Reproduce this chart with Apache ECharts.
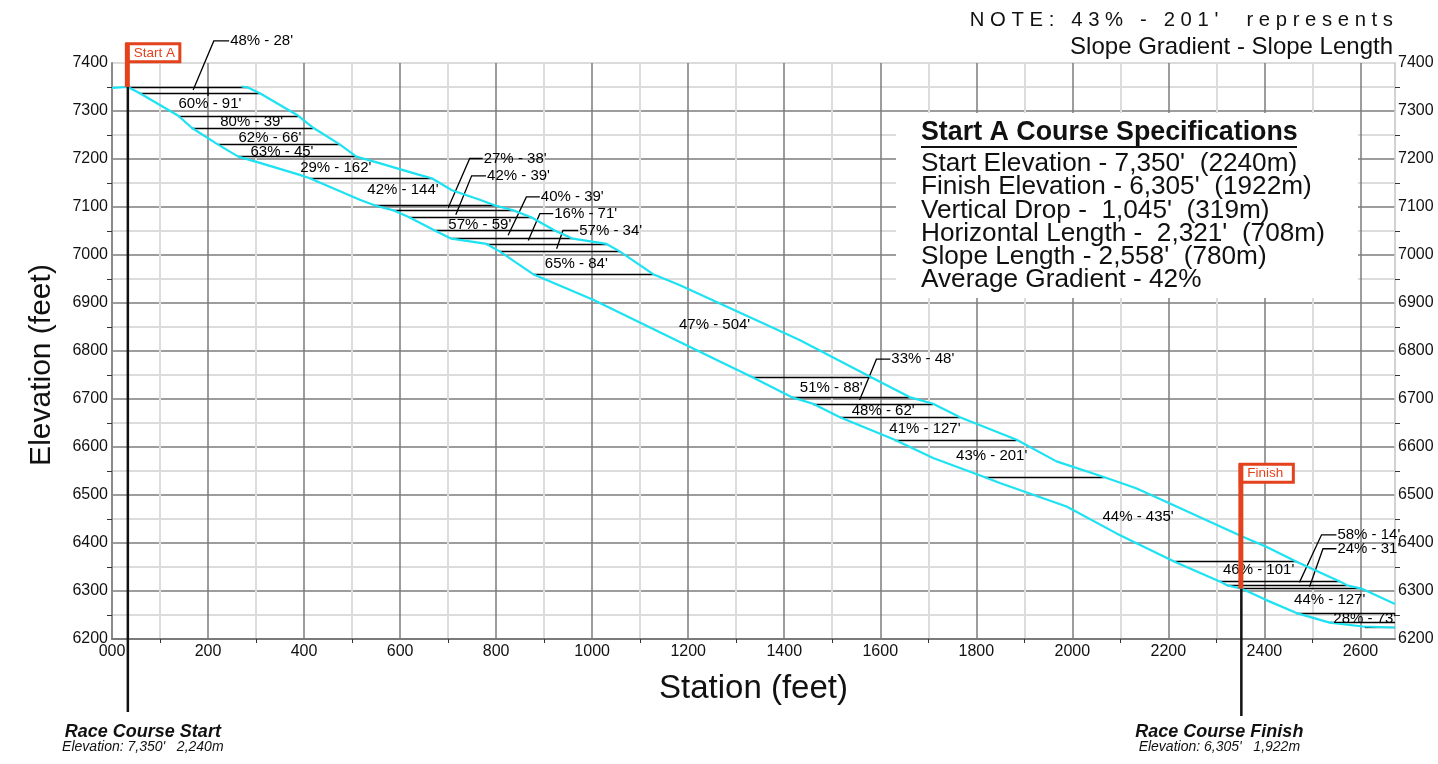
<!DOCTYPE html>
<html>
<head>
<meta charset="utf-8">
<title>Start A Course Profile</title>
<script src="https://cdn.jsdelivr.net/npm/echarts@6/dist/echarts.min.js"></script>
<style>
  html, body { margin: 0; padding: 0; background: #fff; }
  #main { width: 1438px; height: 764px; }
</style>
</head>
<body>
<div id="main"></div>
<script>
// course profile, lower edge: [station ft, elevation ft]
var lowerEdge = [
  [0, 7348], [33, 7350], [58, 7337], [138, 7290], [166, 7265], [221, 7230], [263, 7205],
  [308, 7192], [391, 7167], [412, 7160], [516, 7115], [548, 7103], [586, 7093], [620, 7078],
  [672, 7051], [707, 7034], [780, 7023], [808, 7007], [877, 6960], [1002, 6907], [1266, 6778],
  [1335, 6745], [1415, 6704], [1460, 6690], [1516, 6662], [1630, 6615], [1710, 6577],
  [1818, 6537], [1849, 6525], [1988, 6476], [2092, 6420], [2213, 6361], [2307, 6320],
  [2322, 6312], [2352, 6305], [2404, 6281], [2467, 6254], [2536, 6234], [2605, 6226], [2672, 6224]
];
// upper edge of the band
var upperEdge = [
  [270, 7351], [283, 7349], [308, 7337], [388, 7290], [419, 7265], [475, 7230], [509, 7205],
  [555, 7192], [640, 7167], [666, 7160], [708, 7135], [766, 7115], [798, 7103], [836, 7093],
  [874, 7078], [922, 7051], [960, 7034], [1030, 7023], [1058, 7007], [1127, 6960], [1183, 6937],
  [1432, 6823], [1582, 6745], [1661, 6704], [1710, 6690], [1766, 6662], [1884, 6615],
  [1967, 6570], [2067, 6537], [2133, 6514], [2210, 6479], [2355, 6413], [2404, 6392],
  [2467, 6361], [2557, 6320], [2572, 6312], [2602, 6305], [2672, 6273]
];
// horizontal step lines: [elevation, from station, to station]
var steps = [
  [7349, 33, 283], [7337, 58, 308], [7290, 138, 388], [7265, 166, 419], [7230, 221, 475],
  [7205, 263, 509], [7160, 412, 666], [7103, 548, 798], [7093, 586, 836], [7078, 620, 874],
  [7051, 672, 922], [7034, 707, 960], [7023, 780, 1030], [7007, 808, 1058], [6960, 877, 1127],
  [6745, 1335, 1582], [6704, 1415, 1661], [6690, 1460, 1710], [6662, 1516, 1766],
  [6615, 1630, 1884], [6537, 1818, 2067], [6361, 2213, 2467], [6320, 2307, 2557],
  [6312, 2322, 2572], [6305, 2352, 2602], [6254, 2467, 2672], [6234, 2536, 2672], [6224, 2609, 2672]
];
// gradient - length labels sitting in the band: [station, elevation, text]
var stepLabels = [
  [204, 7315, "60% - 91'"], [291, 7277, "80% - 39'"], [329, 7244, "62% - 66'"],
  [354, 7215, "63% - 45'"], [466, 7182, "29% - 162'"], [606, 7136, "42% - 144'"],
  [766, 7063, "57% - 59'"], [967, 6982, "65% - 84'"], [1255, 6855, "47% - 504'"],
  [1498, 6723, "51% - 88'"], [1606, 6676, "48% - 62'"], [1693, 6637, "41% - 127'"],
  [1832, 6582, "43% - 201'"], [2137, 6454, "44% - 435'"], [2388, 6345, "46% - 101'"],
  [2536, 6282, "44% - 127'"], [2609, 6243, "28% - 73'"]
];
// labels with leader lines: [text, leader points]
var leaderLabels = [
  ["48% - 28'", [[169, 7344], [212, 7446], [244, 7446]]],
  ["", [[200, 7348], [200, 7331]]],
  ["27% - 38'", [[700, 7098], [745, 7201], [772, 7201]]],
  ["42% - 39'", [[716, 7084], [749, 7165], [779, 7165]]],
  ["40% - 39'", [[825, 7041], [863, 7121], [891, 7121]]],
  ["16% - 71'", [[867, 7030], [891, 7086], [919, 7086]]],
  ["57% - 34'", [[926, 7013], [939, 7051], [971, 7051]]],
  ["33% - 48'", [[1557, 6698], [1592, 6783], [1621, 6783]]],
  ["58% - 14'", [[2473, 6318], [2519, 6417], [2550, 6417]]],
  ["24% - 31'", [[2494, 6309], [2522, 6388], [2550, 6388]]]
];
var startPoint = { station: 33, elevation: 7350, flag: 'Start A', flagTop: 7442,
  name: 'Race Course Start', info: "Elevation: 7,350'   2,240m" };
var finishPoint = { station: 2352, elevation: 6305, flag: 'Finish', flagTop: 6566,
  name: 'Race Course Finish', info: "Elevation: 6,305'   1,922m" };
var specTitle = 'Start A Course Specifications';
var specLines = [
  "Start Elevation - 7,350'  (2240m)",
  "Finish Elevation - 6,305'  (1922m)",
  "Vertical Drop -  1,045'  (319m)",
  "Horizontal Length -  2,321'  (708m)",
  "Slope Length - 2,558'  (780m)",
  'Average Gradient - 42%'
];
var noteLines = ["NOTE: 43% - 201'  represents", 'Slope Gradient - Slope Length'];

var font = '"Liberation Sans", Arial, sans-serif';
var cyan = '#1de2f2';
var red = '#e4421c';

var chart = echarts.init(document.getElementById('main'));

var option = {
  animation: false,
  textStyle: { fontFamily: font },
  grid: {
    left: 112, right: 43, top: 63, bottom: 125,
    show: true, borderColor: '#cfcfcf', borderWidth: 1.5,
    outerBoundsMode: 'none'
  },
  xAxis: {
    type: 'value',
    min: 0, max: 2672, interval: 200,
    name: 'Station (feet)',
    nameLocation: 'middle',
    nameGap: 33,
    nameTextStyle: { fontSize: 33, color: '#111' },
    axisLine: { lineStyle: { color: '#7a7a7a', width: 2 } },
    axisTick: { show: false },
    minorTick: { show: true, splitNumber: 2, length: 4, lineStyle: { color: '#333', width: 1 } },
    axisLabel: {
      fontSize: 16, color: '#111', margin: 5,
      formatter: function (v) {
        if (v % 200 !== 0) return '';
        return v === 0 ? '000' : String(v);
      }
    },
    splitLine: { showMinLine: false, showMaxLine: false, lineStyle: { color: '#7d7d7d', width: 1.5 } },
    minorSplitLine: { show: true, lineStyle: { color: '#dcdcdc', width: 2 } }
  },
  yAxis: [{
    type: 'value',
    min: 6200, max: 7400, interval: 100,
    axisLine: { show: true, lineStyle: { color: '#8a8a8a', width: 2 } },
    axisTick: { show: false },
    minorTick: { show: true, splitNumber: 2, length: 5, lineStyle: { color: '#333', width: 1 } },
    axisLabel: { fontSize: 16, color: '#111', margin: 4, formatter: function (v) { return String(v); } },
    splitLine: { showMinLine: false, showMaxLine: false, lineStyle: { color: '#7d7d7d', width: 1.5 } },
    minorSplitLine: { show: true, lineStyle: { color: '#dcdcdc', width: 2 } }
  }, {
    type: 'value',
    position: 'right',
    min: 6200, max: 7400, interval: 100,
    axisLine: { show: true, lineStyle: { color: '#cfcfcf', width: 1.5 } },
    axisTick: { show: false },
    minorTick: { show: true, splitNumber: 2, length: 5, lineStyle: { color: '#333', width: 1 } },
    axisLabel: { fontSize: 16, color: '#111', margin: 3, formatter: function (v) { return String(v); } },
    splitLine: { show: false }
  }],
  series: [{
    name: 'steps',
    type: 'lines',
    coordinateSystem: 'cartesian2d',
    clip: false,
    z: 2,
    lineStyle: { color: '#000', width: 1.3, opacity: 1 },
    data: steps.map(function (s) { return { coords: [[s[1], s[0]], [s[2], s[0]]] }; })
  }, {
    name: 'leaders',
    type: 'lines',
    coordinateSystem: 'cartesian2d',
    polyline: true,
    clip: false,
    z: 2,
    lineStyle: { color: '#000', width: 1.3, opacity: 1 },
    data: leaderLabels.map(function (l) { return { coords: l[1] }; })
  }, {
    name: 'lower',
    type: 'line',
    data: lowerEdge,
    showSymbol: false,
    z: 3,
    lineStyle: { color: cyan, width: 2.2 }
  }, {
    name: 'upper',
    type: 'line',
    data: upperEdge,
    showSymbol: false,
    z: 3,
    lineStyle: { color: cyan, width: 2.2 }
  }]
};

chart.setOption(option);

function px(station, elevation) {
  return chart.convertToPixel({ gridIndex: 0 }, [station, elevation]);
}

// markers, labels, spec box and notes placed through the grid's own scale
function marker(m, textDx, lineEnd) {
  var p = px(m.station, m.elevation);
  var top = px(m.station, m.flagTop)[1];
  return [
    { type: 'line', z: 20, shape: { x1: p[0], y1: p[1], x2: p[0], y2: lineEnd },
      style: { stroke: '#111', lineWidth: 2.5 } },
    { type: 'rect', z: 21, shape: { x: p[0] - 1, y: top + 1, width: 53, height: 18 },
      style: { fill: '#fff', stroke: red, lineWidth: 3 } },
    { type: 'line', z: 22, shape: { x1: p[0] - 0.5, y1: p[1], x2: p[0] - 0.5, y2: top },
      style: { stroke: red, lineWidth: 5 } },
    { type: 'text', z: 23, x: p[0] + 6, y: top + 10,
      style: { text: m.flag, fill: red, font: '13.5px ' + font, verticalAlign: 'middle' } },
    { type: 'text', z: 23, x: p[0] + textDx, y: 732,
      style: { text: m.name, fill: '#111', font: 'italic bold 18px ' + font,
        align: 'center', verticalAlign: 'middle' } },
    { type: 'text', z: 23, x: p[0] + textDx, y: 747,
      style: { text: m.info, fill: '#111', font: 'italic 14px ' + font,
        align: 'center', verticalAlign: 'middle' } }
  ];
}

var graphics = [];

stepLabels.forEach(function (l) {
  var p = px(l[0], l[1]);
  graphics.push({ type: 'text', z: 15, x: p[0], y: p[1],
    style: { text: l[2], fill: '#000', font: '15px ' + font, align: 'center', verticalAlign: 'middle' } });
});
leaderLabels.forEach(function (l) {
  if (!l[0]) return;
  var end = l[1][l[1].length - 1];
  var p = px(end[0], end[1]);
  graphics.push({ type: 'text', z: 15, x: p[0] + 1, y: p[1],
    style: { text: l[0], fill: '#000', font: '15px ' + font, align: 'left', verticalAlign: 'middle' } });
});

graphics = graphics.concat(marker(startPoint, 15, 712));
graphics = graphics.concat(marker(finishPoint, -22, 716));

graphics.push({ type: 'text', z: 11, x: 42, y: 365, rotation: Math.PI / 2,
  style: { text: 'Elevation (feet)', fill: '#111', font: '30px ' + font,
    align: 'center', verticalAlign: 'middle' } });

graphics.push({ type: 'rect', z: 10, shape: { x: 896, y: 113, width: 462, height: 185 },
  style: { fill: '#fff' } });
graphics.push({ type: 'text', z: 11, x: 921, y: 133,
  style: { text: specTitle, fill: '#111', font: 'bold 26.8px ' + font, verticalAlign: 'middle' } });
graphics.push({ type: 'line', z: 11, shape: { x1: 921, y1: 147, x2: 1297, y2: 147 },
  style: { stroke: '#111', lineWidth: 2 } });
specLines.forEach(function (t, i) {
  graphics.push({ type: 'text', z: 11, x: 921, y: 164 + i * 23.2,
    style: { text: t, fill: '#111', font: '26.2px ' + font, verticalAlign: 'middle' } });
});

graphics.push({ type: 'text', z: 11, x: 1393, y: 20,
  style: { text: noteLines[0].split('').join(' '), fill: '#111', font: '20.3px ' + font,
    align: 'right', verticalAlign: 'middle' } });
graphics.push({ type: 'text', z: 11, x: 1393, y: 47,
  style: { text: noteLines[1], fill: '#111', font: '24px ' + font,
    align: 'right', verticalAlign: 'middle' } });

chart.setOption({ graphic: graphics });
</script>
</body>
</html>
